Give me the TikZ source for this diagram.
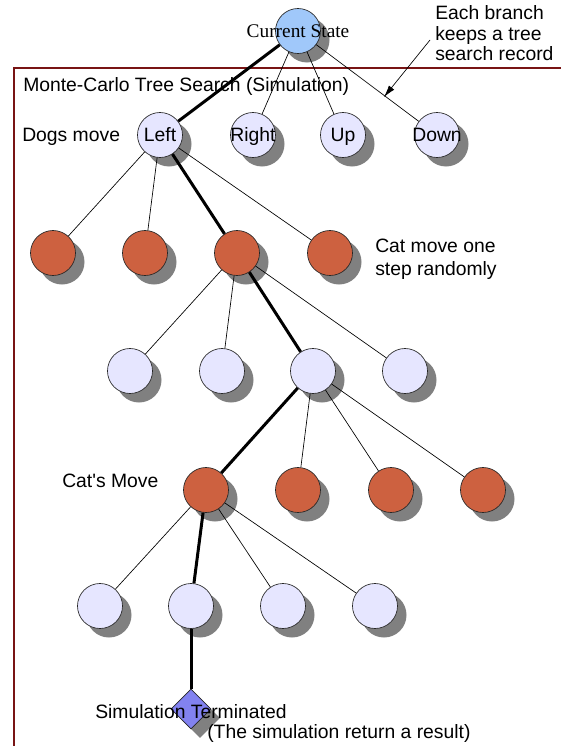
\documentclass[tikz,border=0pt]{standalone}
\usepackage{fontspec}
\setmainfont{Liberation Sans}
\newfontfamily\serifcs{Liberation Serif}
\usetikzlibrary{shadows,shapes.geometric,arrows.meta}
\definecolor{lav}{RGB}{230,230,255}
\definecolor{org}{RGB}{205,97,64}
\definecolor{cur}{RGB}{160,200,250}
\definecolor{dia}{RGB}{130,130,240}
\definecolor{frm}{RGB}{120,20,20}
\definecolor{shd}{RGB}{128,128,128}
\newcommand{\zw}[1]{\makebox[0pt]{#1}}
\begin{document}
\begin{tikzpicture}[x=0.75pt,y=-0.75pt,
  txt/.style={font=\fontsize{14.5}{16}\selectfont, inner sep=0pt, anchor=base west},
  base/.style={circle, draw=black!85, line width=0.5pt, minimum size=33.75pt, inner sep=0pt,
    font=\fontsize{14.5}{16}\selectfont, text height=10.4pt, text depth=0pt,
    drop shadow={shadow xshift=6.75pt, shadow yshift=-6.75pt, fill=shd, opacity=1}},
  dognode/.style={base, fill=lav},
  catnode/.style={base, fill=org},
  curnode/.style={base, fill=cur, font=\serifcs\fontsize{14.5}{16}\selectfont, text height=9.6pt},
  endnode/.style={diamond, draw=black!85, line width=0.5pt, fill=dia, minimum size=30pt, inner sep=0pt,
    drop shadow={shadow xshift=6.75pt, shadow yshift=-6.75pt, fill=shd, opacity=1}},
  thinedge/.style={line width=0.5pt},
  thickedge/.style={line width=2.25pt},
  frame/.style={draw=frm, line width=1.5pt}
]
\useasboundingbox (0,0) rectangle (561,746);

% frame
\coordinate (fbl) at (14,746);
\coordinate (ftl) at (14,68);
\coordinate (ftr) at (561,68);
\draw[frame] (fbl) -- (ftl) -- (ftr);

% nodes
\node[curnode] (cs) at (298,31) {\zw{Current State}};

\node[dognode] (L) at (160,135) {\zw{Left}};
\node[dognode] (R) at (253,135) {\zw{Right}};
\node[dognode] (U) at (343,135) {\zw{Up}};
\node[dognode] (D) at (437,135) {\zw{Down}};

\node[catnode] (c1) at (53,253) {};
\node[catnode] (c2) at (145,253) {};
\node[catnode] (c3) at (237,253) {};
\node[catnode] (c4) at (330,253) {};

\node[dognode] (d1) at (130,371) {};
\node[dognode] (d2) at (222,371) {};
\node[dognode] (d3) at (313,371) {};
\node[dognode] (d4) at (405,371) {};

\node[catnode] (e1) at (206,490) {};
\node[catnode] (e2) at (298,490) {};
\node[catnode] (e3) at (391,490) {};
\node[catnode] (e4) at (483,490) {};

\node[dognode] (f1) at (100,606) {};
\node[dognode] (f2) at (191,606) {};
\node[dognode] (f3) at (283,606) {};
\node[dognode] (f4) at (375,606) {};

\node[endnode] (term) at (191,709) {};

% edges
\draw[thickedge] (cs) -- (L);
\draw[thinedge] (cs) -- (R);
\draw[thinedge] (cs) -- (U);
\draw[thinedge] (cs) -- (D);

\draw[thinedge] (L) -- (c1);
\draw[thinedge] (L) -- (c2);
\draw[thickedge] (L) -- (c3);
\draw[thinedge] (L) -- (c4);

\draw[thinedge] (c3) -- (d1);
\draw[thinedge] (c3) -- (d2);
\draw[thickedge] (c3) -- (d3);
\draw[thinedge] (c3) -- (d4);

\draw[thickedge] (d3) -- (e1);
\draw[thinedge] (d3) -- (e2);
\draw[thinedge] (d3) -- (e3);
\draw[thinedge] (d3) -- (e4);

\draw[thinedge] (e1) -- (f1);
\draw[thickedge] (e1) -- (f2);
\draw[thinedge] (e1) -- (f3);
\draw[thinedge] (e1) -- (f4);

\draw[thickedge] (f2) -- (term);

% labels
\node[txt] (title) at (23,91) {Monte-Carlo Tree Search (Simulation)};
\node[txt] (dogs) at (22,141) {Dogs move};
\node[txt] (cat1) at (375,252) {Cat move one};
\node[txt] (cat2) at (375,275) {step randomly};
\node[txt] (catm) at (62,487) {Cat\textquotesingle s Move};
\node[txt] (st1) at (95,718) {Simulation Terminated};
\node[txt] (st2) at (207,738) {(The simulation return a result)};

\node[txt] (a1) at (435,19) {Each branch};
\node[txt] (a2) at (435,40) {keeps a tree};
\node[txt] (a3) at (435,60) {search record};

% annotation arrow
\coordinate (atail) at (430,40);
\coordinate (ahead) at (384,97);
\draw[line width=0.5pt, -{Latex[length=9pt,width=5pt]}] (atail) -- (ahead);
\end{tikzpicture}
\end{document}
